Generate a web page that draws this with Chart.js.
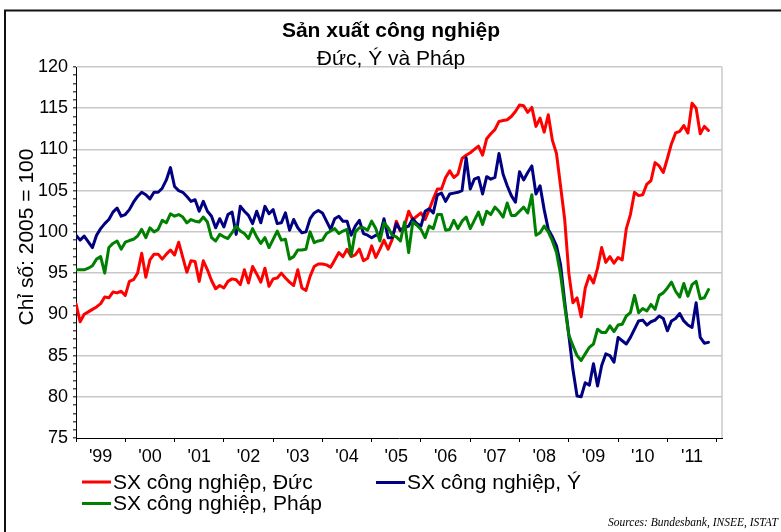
<!DOCTYPE html>
<html>
<head>
<meta charset="utf-8">
<script src="https://cdn.jsdelivr.net/npm/chart.js"></script>
<style>
  html, body { margin: 0; padding: 0; background: #fff; }
  canvas { display: block; }
</style>
</head>
<body>
<canvas id="chart" width="781" height="532"></canvas>
<script>
// monthly index values, Jan 1999 .. Nov 2011 (2005 = 100)
const yearLabels = ["'99", "'00", "'01", "'02", "'03", "'04", "'05", "'06", "'07", "'08", "'09", "'10", "'11"];

const germany = [
  91.3, 89.1, 90.0, 90.3, 90.6, 90.9, 91.3, 92.1, 92.0, 92.7,
  92.6, 92.8, 92.3, 94.0, 94.2, 95.0, 97.4, 94.5, 96.6, 97.3,
  97.3, 96.7, 97.3, 97.8, 97.2, 98.75, 96.9, 95.1, 96.5, 96.4,
  94.0, 96.5, 95.4, 94.1, 93.1, 93.5, 93.2, 94.0, 94.3, 94.2,
  93.6, 95.4, 93.8, 95.8, 94.9, 93.9, 95.6, 93.4, 94.3, 94.4,
  95.0, 94.4, 93.9, 93.5, 95.4, 93.2, 92.9, 94.6, 95.8, 96.1,
  96.1, 96.0, 95.7, 96.6, 97.5, 97.0, 97.9, 97.0, 97.2, 97.9,
  96.5, 96.8, 98.3, 96.9, 97.9, 99.0, 97.9, 99.1, 101.3, 100.1,
  100.7, 102.5, 101.5, 101.9, 102.3, 101.5, 102.7, 104.0, 105.2, 105.2,
  106.6, 107.4, 106.6, 107.0, 108.9, 109.3, 109.6, 110.0, 110.4, 109.3,
  111.3, 111.9, 112.4, 113.4, 113.5, 113.6, 114.0, 114.6, 115.4, 115.3,
  114.5, 115.1, 112.8, 113.8, 112.1, 114.2, 111.1, 109.5, 105.5, 101.5,
  95.0, 91.4, 92.0, 89.7, 93.2, 94.7, 93.8, 95.6, 98.1, 96.3,
  97.0, 96.2, 96.9, 96.6, 100.4, 102.1, 104.8, 104.4, 104.5, 105.8,
  106.2, 108.4, 108.0, 107.2, 108.9, 110.7, 112.0, 112.2, 112.9, 112.0,
  115.6, 115.0, 111.9, 112.8, 112.3
];

const italy = [
  99.6, 99.0, 99.5, 98.8, 98.1, 99.6, 100.4, 101.0, 101.5, 102.4,
  102.9, 101.9, 102.1, 102.7, 103.6, 104.3, 104.8, 104.5, 104.0, 104.8,
  104.8, 105.3, 106.3, 107.8, 105.5, 105.0, 104.8, 104.3, 103.7, 103.9,
  102.5, 103.7, 102.5, 101.9, 100.5, 101.6, 100.6, 102.1, 102.4, 99.7,
  103.1, 102.5, 102.0, 101.0, 102.5, 101.1, 103.1, 102.2, 102.7, 101.0,
  101.1, 102.3, 100.2, 101.5, 100.5, 99.9, 100.0, 101.6, 102.3, 102.6,
  102.3, 101.3, 100.3, 101.6, 101.9, 101.3, 101.3, 99.6, 100.7, 101.4,
  99.8, 99.6, 99.3, 99.6, 99.6, 101.6, 99.3, 99.3, 101.0, 100.2,
  100.5, 100.7, 101.6, 101.0, 100.7, 102.5, 102.8, 102.3, 104.5, 104.7,
  103.7, 104.6, 104.7, 104.8, 105.0, 109.0, 105.2, 106.4, 106.6, 104.6,
  106.7, 106.4, 106.6, 109.5, 107.0, 105.6, 104.4, 103.6, 107.3, 106.3,
  107.2, 108.0, 104.6, 105.6, 102.7, 100.3, 99.4, 98.3, 96.0, 91.5,
  87.5, 83.3, 80.1, 80.0, 81.7, 81.4, 84.0, 81.3, 83.8, 85.2,
  85.0, 84.2, 87.2, 86.8, 86.4, 87.2, 88.2, 89.2, 89.3, 88.7,
  89.1, 89.3, 89.8, 89.5, 88.0, 89.2, 89.5, 90.1, 89.2, 88.7,
  88.4, 91.4, 87.2, 86.5, 86.6
];

const france = [
  95.4, 95.4, 95.4, 95.6, 95.9, 96.7, 97.0, 95.0, 98.1, 98.6,
  98.9, 97.9, 98.75, 98.95, 99.1, 99.5, 100.3, 99.3, 100.5, 100.0,
  100.3, 101.4, 101.1, 102.2, 101.9, 102.1, 101.8, 101.1, 101.5, 101.3,
  101.2, 101.8, 101.2, 99.3, 98.9, 99.7, 99.4, 99.2, 99.9, 100.7,
  100.1, 99.8, 99.2, 100.4, 99.4, 98.6, 99.3, 98.1, 99.1, 100.1,
  99.0, 99.1, 96.7, 97.0, 97.8, 97.8, 97.9, 100.0, 98.7, 98.9,
  99.0, 99.8, 100.1, 100.4, 99.8, 100.1, 100.3, 97.1, 100.0, 100.5,
  100.5, 100.2, 101.3, 100.4, 98.9, 101.1, 100.5, 99.6, 99.4, 98.9,
  101.2, 97.5, 101.2, 100.8, 100.3, 99.3, 100.7, 100.4, 102.1, 102.1,
  100.2, 100.3, 101.4, 100.4, 101.3, 101.8, 100.4, 101.4, 102.4, 100.9,
  102.5, 102.1, 103.0, 102.5, 101.8, 103.5, 102.0, 102.0, 102.5, 103.0,
  102.3, 104.5, 99.6, 99.9, 100.7, 100.0, 98.9, 97.5, 94.8, 91.0,
  87.5, 86.2, 85.0, 84.4, 85.2, 86.0, 86.4, 88.2, 87.8, 87.8,
  88.6, 87.9, 88.7, 88.8, 89.8, 90.2, 92.3, 90.2, 90.7, 90.4,
  91.2, 90.6, 92.3, 92.6, 93.2, 93.9, 92.8, 92.1, 93.75, 92.2,
  93.6, 94.0, 91.9, 92.0, 93.0
];

const seriesNames = ['SX công nghiệp, Đức', 'SX công nghiệp, Ý', 'SX công nghiệp, Pháp'];
const seriesColors = ['#ff0000', '#000080', '#008000'];

const FONT = '"Liberation Sans", Arial, sans-serif';

function toPoints(values) {
  return values.map((v, i) => ({ x: i, y: v }));
}

// title, legend, frame etc. drawn by hand to get the Excel-like layout
const decor = {
  id: 'decor',
  beforeDraw(chart) {
    const ctx = chart.ctx;
    ctx.save();
    ctx.fillStyle = '#fff';
    ctx.fillRect(0, 0, chart.width, chart.height);
    ctx.restore();
  },
  afterDraw(chart) {
    const ctx = chart.ctx;
    const area = chart.chartArea;
    ctx.save();

    // outer frame (right/bottom edges fall outside the picture)
    ctx.strokeStyle = '#111';
    ctx.lineWidth = 2;
    ctx.strokeRect(5, 10.5, 900, 900);

    // right edge of plot area
    ctx.strokeStyle = '#c8c8c8';
    ctx.lineWidth = 1.5;
    ctx.beginPath();
    ctx.moveTo(area.right, area.top);
    ctx.lineTo(area.right, area.bottom);
    ctx.stroke();

    ctx.fillStyle = '#000';
    ctx.textAlign = 'center';
    ctx.textBaseline = 'alphabetic';
    ctx.font = 'bold 21px ' + FONT;
    ctx.fillText('Sản xuất công nghiệp', 391, 37);
    ctx.font = '21px ' + FONT;
    ctx.fillText('Đức, Ý và Pháp', 391, 65);

    // y axis title
    ctx.save();
    ctx.translate(27, 237);
    ctx.rotate(-Math.PI / 2);
    ctx.textBaseline = 'middle';
    ctx.font = '21px ' + FONT;
    ctx.fillText('Chỉ số: 2005 = 100', 0, 0);
    ctx.restore();

    // legend
    const items = [
      { x: 82, y: 482, ty: 488.5 },
      { x: 376, y: 482.5, ty: 488.5 },
      { x: 82, y: 503.5, ty: 510 }
    ];
    ctx.font = '21px ' + FONT;
    ctx.textAlign = 'left';
    ctx.lineWidth = 3;
    items.forEach((it, k) => {
      ctx.strokeStyle = seriesColors[k];
      ctx.beginPath();
      ctx.moveTo(it.x, it.y);
      ctx.lineTo(it.x + 29, it.y);
      ctx.stroke();
      ctx.fillText(seriesNames[k], it.x + 31, it.ty);
    });

    ctx.font = 'italic 11.5px "Liberation Serif", "Times New Roman", serif';
    ctx.fillText('Sources: Bundesbank, INSEE, ISTAT', 608, 526);
    ctx.restore();
  }
};

const config = {
  type: 'line',
  data: {
    datasets: [
      { label: seriesNames[2], data: toPoints(france), borderColor: seriesColors[2], backgroundColor: seriesColors[2] },
      { label: seriesNames[1], data: toPoints(italy), borderColor: seriesColors[1], backgroundColor: seriesColors[1] },
      { label: seriesNames[0], data: toPoints(germany), borderColor: seriesColors[0], backgroundColor: seriesColors[0] }
    ]
  },
  options: {
    responsive: false,
    animation: false,
    devicePixelRatio: 1,
    layout: { padding: { left: 5, top: 67, right: 59, bottom: 0 } },
    elements: {
      point: { radius: 0 },
      line: { borderWidth: 3, tension: 0, borderJoinStyle: 'round', borderCapStyle: 'round' }
    },
    plugins: {
      legend: { display: false },
      title: { display: false },
      tooltip: { enabled: false }
    },
    scales: {
      x: {
        type: 'linear',
        min: 0,
        max: 157.3,
        afterBuildTicks: (s) => {
          const t = [];
          for (let v = 0; v <= 156; v += 6) t.push({ value: v });
          s.ticks = t;
        },
        afterFit: (s) => { s.height = 94; },
        border: { color: '#000', width: 1 },
        grid: {
          drawOnChartArea: false,
          tickLength: 4,
          tickColor: (c) => (c.tick && c.tick.value % 12 === 0 ? '#000' : 'rgba(0,0,0,0)')
        },
        ticks: {
          autoSkip: false,
          maxRotation: 0,
          padding: 4,
          color: '#000',
          font: { family: FONT, size: 18 },
          callback: (v) => (v % 12 === 6 ? yearLabels[(v - 6) / 12] : '')
        }
      },
      y: {
        min: 75,
        max: 120,
        afterBuildTicks: (s) => {
          const t = [];
          for (let v = 75; v <= 120; v += 1) t.push({ value: v });
          s.ticks = t;
        },
        afterFit: (s) => { s.width = 71; },
        border: { color: '#000', width: 1 },
        grid: {
          lineWidth: 1.5,
          color: (c) => (c.tick && c.tick.value % 5 === 0 && c.tick.value > 75 ? '#c8c8c8' : 'rgba(0,0,0,0)'),
          tickLength: 3,
          tickColor: '#555'
        },
        ticks: {
          autoSkip: false,
          padding: 5,
          color: '#000',
          font: { family: FONT, size: 18 },
          callback: (v) => (v % 5 === 0 ? String(v) : '')
        }
      }
    }
  },
  plugins: [decor]
};

new Chart(document.getElementById('chart'), config);
</script>
</body>
</html>
